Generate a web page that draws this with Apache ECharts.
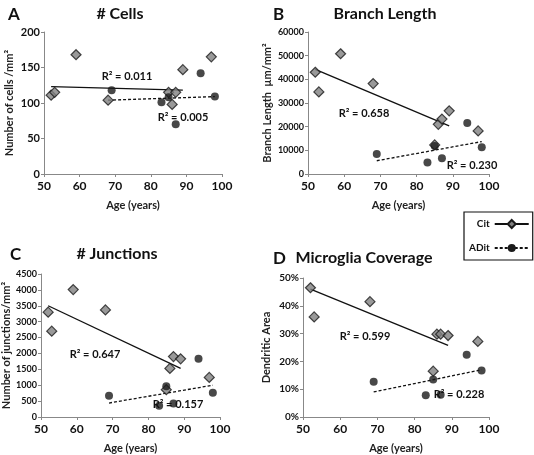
<!DOCTYPE html>
<html>
<head>
<meta charset="utf-8">
<script src="https://cdn.jsdelivr.net/npm/echarts@6/dist/echarts.min.js"></script>
<style>
html,body{margin:0;padding:0;background:#fff;}
#chart{width:534px;height:455px;}
</style>
</head>
<body>
<div id="chart"></div>
<script>
// ---- data ----
var ctlAge = [52, 53, 59, 68, 85, 86, 87, 89, 97];
var adAge = [69, 83, 85, 87, 94, 98];

var cellsCtl = [111, 115, 168, 104, 115, 98, 115, 147, 165];
var cellsAd = [118, 101, 108, 70, 142, 109];

var lengthCtl = [43000, 34700, 50800, 38200, 12300, 21000, 23200, 26700, 18200];
var lengthAd = [8500, 4900, 11800, 6700, 21500, 11300];

var junctionsCtl = [3300, 2700, 4010, 3370, 860, 1530, 1900, 1830, 1245];
var junctionsAd = [670, 355, 970, 425, 1830, 760];

var coverageCtl = [46.5, 36, null, 41.5, 16.5, 29.8, 29.8, 29.3, 27.2];
var coverageAd = [12.7, 7.8, 13.5, 8.0, 22.4, 16.7];

// trend line endpoints [age, value]
var trendCellsCtl = [[52, 123], [89, 118]];
var trendCellsAd = [[68, 104], [98, 109]];
var trendLengthCtl = [[52, 44200], [89, 20300]];
var trendLengthAd = [[69, 5600], [98, 13700]];
var trendJunctionsCtl = [[52, 3500], [89, 1530]];
var trendJunctionsAd = [[69, 440], [98, 1000]];
var trendCoverageCtl = [[52, 46], [89, 25.8]];
var trendCoverageAd = [[69, 9], [98, 17]];

var r2Labels = ['R² = 0.011', 'R² = 0.005', 'R² = 0.658', 'R² = 0.230',
                'R² = 0.647', 'R² = 0.157', 'R² = 0.599', 'R² = 0.228'];
var panelTitles = ['# Cells', 'Branch Length', '# Junctions', 'Microglia Coverage'];
var panelLetters = ['A', 'B', 'C', 'D'];
var yNames = ['Number of cells /mm²', 'Branch Length  µm/mm²', 'Number of junctions/mm²', 'Dendritic Area'];
var xName = 'Age (years)';
var legendNames = ['Cit', 'ADit'];

var FONT = 'Lato';
function zip(a, b) { return a.map(function (v, i) { return [v, b[i]]; }); }

var grids = [
  {left: 44, top: 32, width: 178, height: 142},
  {left: 308, top: 32, width: 181, height: 142},
  {left: 41, top: 274, width: 179, height: 149},
  {left: 303, top: 278, width: 186, height: 146}
];
var yCfg = [
  {max: 200, interval: 50, gap: 29, size: 11, suffix: ''},
  {max: 60000, interval: 10000, gap: 35, size: 9, suffix: ''},
  {max: 4500, interval: 500, gap: 28, size: 9, suffix: ''},
  {max: 50, interval: 10, gap: 31, size: 10, suffix: '%'}
];

var xAxes = [], yAxes = [];
grids.forEach(function (g, i) {
  xAxes.push({
    gridIndex: i, type: 'value', min: 50, max: 100, interval: 10,
    name: xName, nameLocation: 'middle', nameGap: 26,
    nameTextStyle: {fontFamily: FONT, fontWeight: 'bold', fontSize: 11, color: '#222'},
    axisLine: {lineStyle: {color: '#888', width: 1}},
    axisTick: {show: true, length: 3, lineStyle: {color: '#888'}},
    axisLabel: {fontFamily: FONT, fontWeight: 'bold', fontSize: 12, color: '#111', margin: 6},
    splitLine: {show: false}
  });
  (function (cfg) {
    yAxes.push({
      gridIndex: i, type: 'value', min: 0, max: cfg.max, interval: cfg.interval,
      name: yNames[i], nameLocation: 'middle', nameGap: cfg.gap, nameRotate: 90,
      nameTextStyle: {fontFamily: FONT, fontWeight: 'bold', fontSize: 11, color: '#222'},
      axisLine: {show: true, lineStyle: {color: '#888', width: 1}},
      axisTick: {show: true, length: 3, lineStyle: {color: '#888'}},
      axisLabel: {fontFamily: FONT, fontWeight: 'bold', fontSize: cfg.size, color: '#111', margin: 4,
        formatter: function (v) { return String(v) + cfg.suffix; }},
      splitLine: {show: false}
    });
  })(yCfg[i]);
});

var ctlItem = {color: '#808080', borderColor: '#1a1a1a', borderWidth: 1.2};
var adItem = {color: '#1a1a1a'};

var panels = [
  [cellsCtl, cellsAd, trendCellsCtl, trendCellsAd],
  [lengthCtl, lengthAd, trendLengthCtl, trendLengthAd],
  [junctionsCtl, junctionsAd, trendJunctionsCtl, trendJunctionsAd],
  [coverageCtl, coverageAd, trendCoverageCtl, trendCoverageAd]
];

var series = [];
panels.forEach(function (p, i) {
  series.push({
    name: legendNames[0], type: 'line', xAxisIndex: i, yAxisIndex: i, data: p[2],
    symbol: 'diamond', symbolSize: 10, showSymbol: false, itemStyle: ctlItem,
    lineStyle: {color: '#111', width: 1.3, type: 'solid'}, z: 3, silent: true
  });
  series.push({
    name: legendNames[1], type: 'line', xAxisIndex: i, yAxisIndex: i, data: p[3],
    symbol: 'circle', symbolSize: 8, showSymbol: false, itemStyle: adItem,
    lineStyle: {color: '#111', width: 1.3, type: [3, 2]}, z: 3, silent: true
  });
  series.push({
    name: legendNames[0], type: 'scatter', xAxisIndex: i, yAxisIndex: i,
    data: zip(ctlAge, p[0]).filter(function (d) { return d[1] !== null; }),
    symbol: 'diamond', symbolSize: 10, itemStyle: ctlItem, z: 4
  });
  series.push({
    name: legendNames[1], type: 'scatter', xAxisIndex: i, yAxisIndex: i,
    data: zip(adAge, p[1]), symbol: 'circle', symbolSize: 8, itemStyle: adItem, z: 5
  });
});

var titleCenters = [[115, 1], [380, 1], [112, 241], [359, 245]];
var letterPos = [[3, 1], [268, 1], [5, 241], [268, 245]];
var titles = [];
panelTitles.forEach(function (t, i) {
  titles.push({text: t, left: titleCenters[i][0], top: titleCenters[i][1], textAlign: 'center',
    textStyle: {fontFamily: FONT, fontWeight: 'bold', fontSize: 16, color: '#111'}});
  titles.push({text: panelLetters[i], left: letterPos[i][0], top: letterPos[i][1],
    textStyle: {fontFamily: FONT, fontWeight: 'bold', fontSize: 17, color: '#111'}});
});

var r2Pos = [[127, 76], [183, 117], [364, 113], [472, 165], [95, 354], [178, 404], [365, 336], [459, 394]];
var graphics = r2Labels.map(function (t, i) {
  return {type: 'text', x: r2Pos[i][0], y: r2Pos[i][1], z: 10,
    style: {text: t, fontFamily: FONT, fontWeight: 'bold', fontSize: 11, fill: '#111',
      align: 'center', verticalAlign: 'middle'}};
});

var option = {
  backgroundColor: '#fff',
  animation: false,
  title: titles,
  grid: grids,
  xAxis: xAxes,
  yAxis: yAxes,
  legend: {
    data: legendNames, orient: 'vertical', left: 464, top: 212,
    align: 'right', itemWidth: 34, itemHeight: 10, itemGap: 14,
    padding: [7, 3, 7, 5], borderColor: '#111', borderWidth: 1.2,
    selectedMode: false,
    textStyle: {fontFamily: FONT, fontWeight: 'bold', fontSize: 10, color: '#111', width: 26, align: 'right'}
  },
  graphic: graphics,
  series: series
};

var chart = echarts.init(document.getElementById('chart'), null, {renderer: 'canvas'});
chart.setOption(option);
</script>
</body>
</html>
